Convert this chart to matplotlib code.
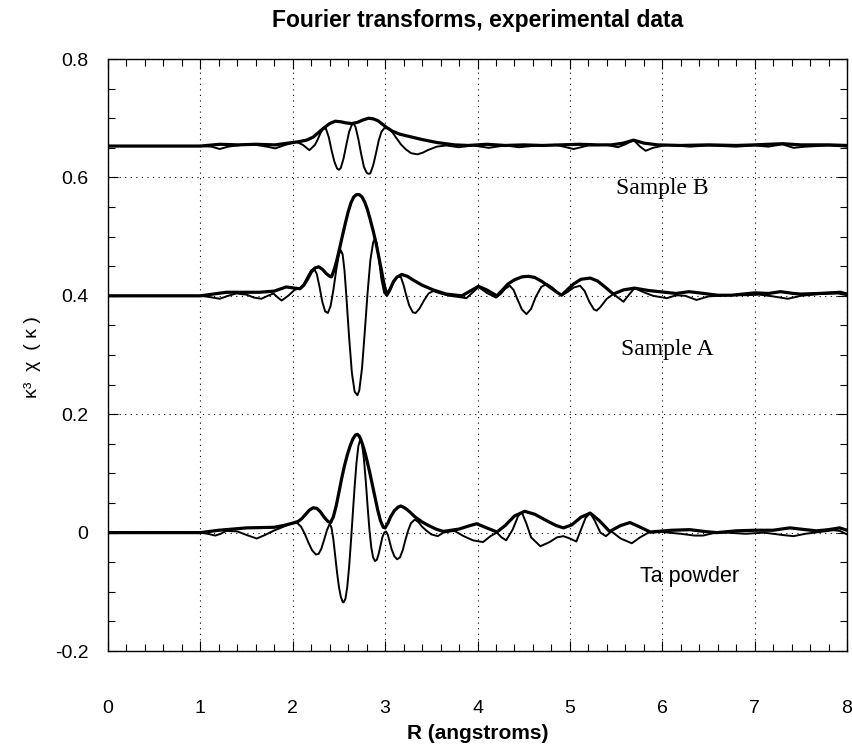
import matplotlib.pyplot as plt
from matplotlib.ticker import MultipleLocator

# Ta powder (offset 0): magnitude (thick) and imaginary part (thin)
ta_mag_r = [0.0, 1.0, 1.2, 1.5, 1.8, 1.9, 2.0, 2.06, 2.10, 2.14, 2.18, 2.22, 2.26, 2.30, 2.34,
            2.38, 2.41, 2.44, 2.47, 2.50, 2.53, 2.56, 2.59, 2.62, 2.65, 2.68, 2.70, 2.72, 2.74,
            2.77, 2.80, 2.83, 2.86, 2.89, 2.92, 2.95, 2.98, 3.00, 3.03, 3.06, 3.10, 3.14, 3.17,
            3.21, 3.26, 3.32, 3.40, 3.47, 3.55, 3.63, 3.80, 3.90, 3.99, 4.10, 4.21, 4.30, 4.40,
            4.51, 4.62, 4.75, 4.85, 4.93, 5.02, 5.12, 5.22, 5.32, 5.43, 5.55, 5.65, 5.75, 5.87,
            6.1, 6.3, 6.45, 6.59, 6.8, 7.0, 7.2, 7.38, 7.55, 7.67, 7.8, 7.92, 8.0]
ta_mag = [0.0, 0.0, 0.004, 0.008, 0.009, 0.012, 0.016, 0.019, 0.024, 0.031, 0.038, 0.042, 0.041,
          0.035, 0.026, 0.019, 0.017, 0.027, 0.045, 0.068, 0.092, 0.113, 0.131, 0.146, 0.158,
          0.165, 0.166, 0.163, 0.156, 0.142, 0.124, 0.104, 0.082, 0.060, 0.038, 0.020, 0.009,
          0.008, 0.016, 0.027, 0.037, 0.043, 0.045, 0.042, 0.036, 0.027, 0.018, 0.012, 0.006,
          0.002, 0.006, 0.011, 0.015, 0.008, 0.001, 0.012, 0.028, 0.036, 0.031, 0.020, 0.012,
          0.008, 0.013, 0.026, 0.033, 0.020, 0.002, 0.012, 0.017, 0.010, 0.001, 0.004, 0.005,
          0.002, 0.0, 0.003, 0.004, 0.004, 0.008, 0.005, 0.003, 0.005, 0.008, 0.004]
ta_im_r = [0.0, 1.0, 1.08, 1.16, 1.22, 1.28, 1.40, 1.50, 1.61, 1.70, 1.79, 1.90, 2.0, 2.05, 2.09,
           2.13, 2.17, 2.21, 2.25, 2.28, 2.31, 2.34, 2.37, 2.40, 2.42, 2.44, 2.46, 2.48, 2.50,
           2.52, 2.54, 2.55, 2.57, 2.59, 2.61, 2.63, 2.65, 2.67, 2.69, 2.71, 2.73, 2.75, 2.77,
           2.79, 2.81, 2.83, 2.85, 2.87, 2.89, 2.91, 2.93, 2.95, 2.97, 2.99, 3.01, 3.03, 3.05,
           3.07, 3.10, 3.13, 3.16, 3.19, 3.22, 3.25, 3.28, 3.32, 3.36, 3.40, 3.45, 3.50, 3.57,
           3.63, 3.75, 3.85, 3.95, 4.06, 4.14, 4.21, 4.26, 4.31, 4.38, 4.44, 4.48, 4.53, 4.58,
           4.68, 4.78, 4.86, 4.93, 5.00, 5.07, 5.12, 5.17, 5.22, 5.27, 5.33, 5.39, 5.45, 5.55,
           5.67, 5.76, 5.85, 6.0, 6.2, 6.35, 6.44, 6.55, 6.7, 6.9, 7.1, 7.3, 7.42, 7.55, 7.7,
           7.85, 7.92, 8.0]
ta_im = [0.0, 0.0, -0.002, -0.005, -0.002, 0.003, 0.002, -0.004, -0.010, -0.004, 0.003, 0.010,
         0.016, 0.016, 0.010, -0.002, -0.017, -0.030, -0.037, -0.036, -0.027, -0.012, 0.004,
         0.015, 0.008, -0.012, -0.040, -0.068, -0.092, -0.108, -0.117, -0.118, -0.112, -0.092,
         -0.058, -0.015, 0.032, 0.078, 0.118, 0.146, 0.157, 0.150, 0.125, 0.088, 0.045, 0.005,
         -0.025, -0.042, -0.048, -0.046, -0.036, -0.022, -0.008, 0.0, 0.002, -0.004, -0.016,
         -0.028, -0.040, -0.045, -0.042, -0.030, -0.012, 0.004, 0.016, 0.022, 0.018, 0.010,
         0.003, -0.003, -0.006, 0.0, 0.003, -0.006, -0.013, -0.016, -0.006, 0.0, -0.008,
         -0.013, 0.005, 0.028, 0.034, 0.015, -0.008, -0.023, -0.016, -0.008, -0.006, -0.010,
         -0.015, 0.005, 0.025, 0.033, 0.020, 0.0, -0.006, 0.002, -0.010, -0.018, -0.008, 0.0,
         0.001, -0.002, -0.005, -0.005, -0.001, 0.0, -0.002, 0.0, -0.004, -0.006, -0.002, 0.001,
         0.004, 0.003, -0.003]

# Sample A (offset 0.4)
a_mag_r = [0.0, 1.0, 1.28, 1.64, 1.80, 1.93, 2.02, 2.08, 2.12, 2.16, 2.20, 2.24, 2.28, 2.32,
           2.36, 2.40, 2.42, 2.45, 2.48, 2.51, 2.54, 2.57, 2.60, 2.63, 2.66, 2.69, 2.72, 2.75,
           2.78, 2.81, 2.84, 2.87, 2.90, 2.93, 2.96, 2.99, 3.02, 3.05, 3.09, 3.13, 3.18, 3.24,
           3.30, 3.40, 3.52, 3.66, 3.83, 3.92, 4.01, 4.10, 4.21, 4.27, 4.33, 4.40, 4.48, 4.55,
           4.62, 4.70, 4.78, 4.85, 4.91, 4.97, 5.04, 5.12, 5.22, 5.30, 5.38, 5.47, 5.58, 5.70,
           5.85, 5.97, 6.15, 6.29, 6.45, 6.6, 6.75, 7.0, 7.15, 7.28, 7.42, 7.5, 7.7, 7.93, 8.0]
a_mag = [0.400, 0.400, 0.406, 0.406, 0.408, 0.415, 0.413, 0.412, 0.418, 0.428, 0.440, 0.447,
         0.449, 0.445, 0.438, 0.433, 0.432, 0.445, 0.462, 0.482, 0.503, 0.523, 0.542, 0.557,
         0.567, 0.571, 0.571, 0.567, 0.558, 0.545, 0.528, 0.510, 0.490, 0.467, 0.443, 0.418,
         0.402, 0.410, 0.424, 0.432, 0.436, 0.433, 0.427, 0.418, 0.410, 0.403, 0.400, 0.408,
         0.416, 0.410, 0.400, 0.410, 0.420, 0.427, 0.432, 0.433, 0.431, 0.424, 0.415, 0.407,
         0.401, 0.410, 0.420, 0.428, 0.430, 0.425, 0.415, 0.403, 0.410, 0.413, 0.409, 0.407,
         0.404, 0.407, 0.404, 0.401, 0.401, 0.405, 0.404, 0.407, 0.404, 0.403, 0.404, 0.406,
         0.403]
a_im_r = [0.0, 1.0, 1.10, 1.21, 1.30, 1.39, 1.50, 1.58, 1.66, 1.73, 1.79, 1.84, 1.88, 1.95, 2.02,
          2.08, 2.12, 2.16, 2.20, 2.23, 2.26, 2.29, 2.32, 2.35, 2.38, 2.41, 2.44, 2.47, 2.50,
          2.52, 2.54, 2.56, 2.58, 2.61, 2.64, 2.67, 2.70, 2.72, 2.75, 2.78, 2.81, 2.84, 2.87,
          2.89, 2.91, 2.93, 2.96, 2.99, 3.02, 3.05, 3.09, 3.13, 3.17, 3.20, 3.23, 3.26, 3.30,
          3.33, 3.37, 3.42, 3.47, 3.52, 3.60, 3.70, 3.80, 3.88, 3.95, 4.01, 4.10, 4.20, 4.25,
          4.30, 4.35, 4.39, 4.43, 4.48, 4.53, 4.58, 4.63, 4.69, 4.75, 4.81, 4.87, 4.91, 4.97,
          5.04, 5.11, 5.16, 5.21, 5.26, 5.29, 5.33, 5.40, 5.47, 5.53, 5.58, 5.64, 5.70, 5.80,
          5.90, 6.05, 6.15, 6.25, 6.37, 6.50, 6.7, 6.9, 7.05, 7.2, 7.36, 7.5, 7.7, 7.9, 8.0]
a_im = [0.400, 0.400, 0.398, 0.395, 0.400, 0.404, 0.402, 0.397, 0.395, 0.400, 0.404, 0.397,
        0.392, 0.400, 0.410, 0.413, 0.420, 0.432, 0.443, 0.446, 0.437, 0.415, 0.390, 0.374,
        0.371, 0.383, 0.410, 0.443, 0.470, 0.477, 0.470, 0.443, 0.400, 0.330, 0.270, 0.238,
        0.232, 0.240, 0.278, 0.340, 0.405, 0.460, 0.490, 0.497, 0.488, 0.465, 0.428, 0.405,
        0.400, 0.408, 0.422, 0.432, 0.432, 0.418, 0.400, 0.384, 0.372, 0.371, 0.378, 0.392,
        0.404, 0.408, 0.404, 0.400, 0.398, 0.396, 0.406, 0.415, 0.405, 0.397, 0.403, 0.412,
        0.417, 0.410, 0.395, 0.377, 0.369, 0.378, 0.398, 0.415, 0.420, 0.414, 0.405, 0.401,
        0.406, 0.414, 0.417, 0.408, 0.390, 0.377, 0.375, 0.381, 0.395, 0.403, 0.396, 0.390,
        0.402, 0.413, 0.406, 0.400, 0.396, 0.401, 0.400, 0.393, 0.399, 0.401, 0.401, 0.402,
        0.399, 0.395, 0.400, 0.403, 0.404, 0.401]

# Sample B (offset about 0.65)
b_mag_r = [0.0, 1.0, 1.21, 1.4, 1.6, 1.81, 1.95, 2.05, 2.15, 2.22, 2.28, 2.34, 2.40, 2.46, 2.52,
           2.58, 2.64, 2.70, 2.76, 2.82, 2.87, 2.92, 2.97, 3.02, 3.08, 3.16, 3.24, 3.32, 3.40,
           3.56, 3.75, 3.9, 4.1, 4.3, 4.5, 4.7, 4.9, 5.1, 5.3, 5.45, 5.58, 5.69, 5.80, 5.95,
           6.2, 6.5, 6.8, 7.0, 7.3, 7.5, 7.8, 8.0]
b_mag = [0.653, 0.653, 0.656, 0.655, 0.656, 0.655, 0.658, 0.660, 0.663, 0.668, 0.676, 0.684,
         0.691, 0.695, 0.694, 0.692, 0.691, 0.693, 0.697, 0.700, 0.699, 0.696, 0.690, 0.684,
         0.678, 0.673, 0.670, 0.667, 0.664, 0.659, 0.655, 0.654, 0.656, 0.654, 0.655, 0.654,
         0.655, 0.656, 0.655, 0.655, 0.658, 0.663, 0.658, 0.655, 0.654, 0.655, 0.654, 0.655,
         0.657, 0.655, 0.655, 0.654]
b_im_r = [0.0, 1.0, 1.12, 1.21, 1.30, 1.45, 1.6, 1.72, 1.81, 1.92, 2.04, 2.11, 2.18, 2.24, 2.27,
          2.30, 2.33, 2.36, 2.39, 2.42, 2.45, 2.48, 2.50, 2.52, 2.55, 2.58, 2.61, 2.64, 2.66,
          2.68, 2.71, 2.74, 2.77, 2.80, 2.82, 2.84, 2.87, 2.90, 2.93, 2.96, 3.00, 3.04, 3.08,
          3.12, 3.17, 3.22, 3.28, 3.35, 3.41, 3.46, 3.56, 3.66, 3.8, 3.95, 4.12, 4.3, 4.45,
          4.65, 4.85, 5.04, 5.2, 5.40, 5.52, 5.60, 5.69, 5.76, 5.82, 5.90, 6.05, 6.3, 6.5, 6.8,
          7.0, 7.15, 7.30, 7.42, 7.55, 7.8, 8.0]
b_im = [0.653, 0.653, 0.652, 0.648, 0.652, 0.655, 0.655, 0.652, 0.649, 0.655, 0.660, 0.655,
        0.646, 0.655, 0.664, 0.675, 0.683, 0.682, 0.668, 0.646, 0.627, 0.615, 0.613, 0.616,
        0.632, 0.655, 0.677, 0.689, 0.691, 0.685, 0.665, 0.640, 0.618, 0.608, 0.606, 0.607,
        0.620, 0.640, 0.662, 0.677, 0.685, 0.683, 0.676, 0.667, 0.656, 0.648, 0.641, 0.639,
        0.642, 0.646, 0.652, 0.654, 0.651, 0.654, 0.650, 0.654, 0.651, 0.654, 0.655, 0.648,
        0.654, 0.655, 0.651, 0.656, 0.663, 0.652, 0.645, 0.650, 0.655, 0.652, 0.654, 0.652,
        0.654, 0.652, 0.656, 0.650, 0.652, 0.654, 0.652]

labels = ["Sample B", "Sample A", "Ta powder"]
label_pos = [(6.0, 0.581), (6.05, 0.310), (6.3, -0.074)]

plt.rcParams['font.family'] = ['Liberation Sans', 'DejaVu Sans']

fig = plt.figure(figsize=(8.53, 7.52), dpi=100)
ax = fig.add_axes([0.1266, 0.1343, 0.8664, 0.7872])

thick = 2.3
thin = 1.4
curves = [(ta_mag_r, ta_mag, thick), (ta_im_r, ta_im, thin),
          (a_mag_r, a_mag, thick), (a_im_r, a_im, thin),
          (b_mag_r, b_mag, thick), (b_im_r, b_im, thin)]
for r, v, w in curves:
    ax.plot(r, v, color='black', lw=w, solid_joinstyle='round')

ax.set_xlim(0, 8)
ax.set_ylim(-0.2, 0.8)
ax.xaxis.set_major_locator(MultipleLocator(1))
ax.xaxis.set_minor_locator(MultipleLocator(0.2))
ax.yaxis.set_major_locator(MultipleLocator(0.2))
ax.yaxis.set_minor_locator(MultipleLocator(0.05))
ax.grid(True, which='major', ls=(0, (1, 4)), color='black', lw=0.8)
ax.tick_params(which='both', direction='in', top=True, right=True, color='black')
ax.tick_params(which='major', length=7, width=0.8)
ax.tick_params(which='minor', length=5, width=0.8)
ax.tick_params(axis='x', which='major', pad=35, labelsize=14)
ax.tick_params(axis='y', which='major', pad=14, labelsize=14)
ax.set_yticks([-0.2, 0, 0.2, 0.4, 0.6, 0.8])
ax.set_yticklabels(["-0.2", "0", "0.2", "0.4", "0.6", "0.8"])
for s in ax.spines.values():
    s.set_linewidth(1.0)

ax.text(*label_pos[0], labels[0], family='Liberation Serif', fontsize=17, ha='center', va='center')
ax.text(*label_pos[1], labels[1], family='Liberation Serif', fontsize=17, ha='center', va='center')
ax.text(*label_pos[2], labels[2], fontsize=15.5, ha='center', va='center')

fig.text(0.56, 0.973, "Fourier transforms, experimental data", fontsize=16.5,
         fontweight='bold', ha='center', va='center')
fig.text(0.56, 0.025, "R (angstroms)", fontsize=15, fontweight='bold', ha='center', va='center')
fig.text(0.038, 0.525, "κ³  χ  ( κ )", fontsize=14, rotation=90, ha='center', va='center')

fig.savefig("out.png", dpi=100)
